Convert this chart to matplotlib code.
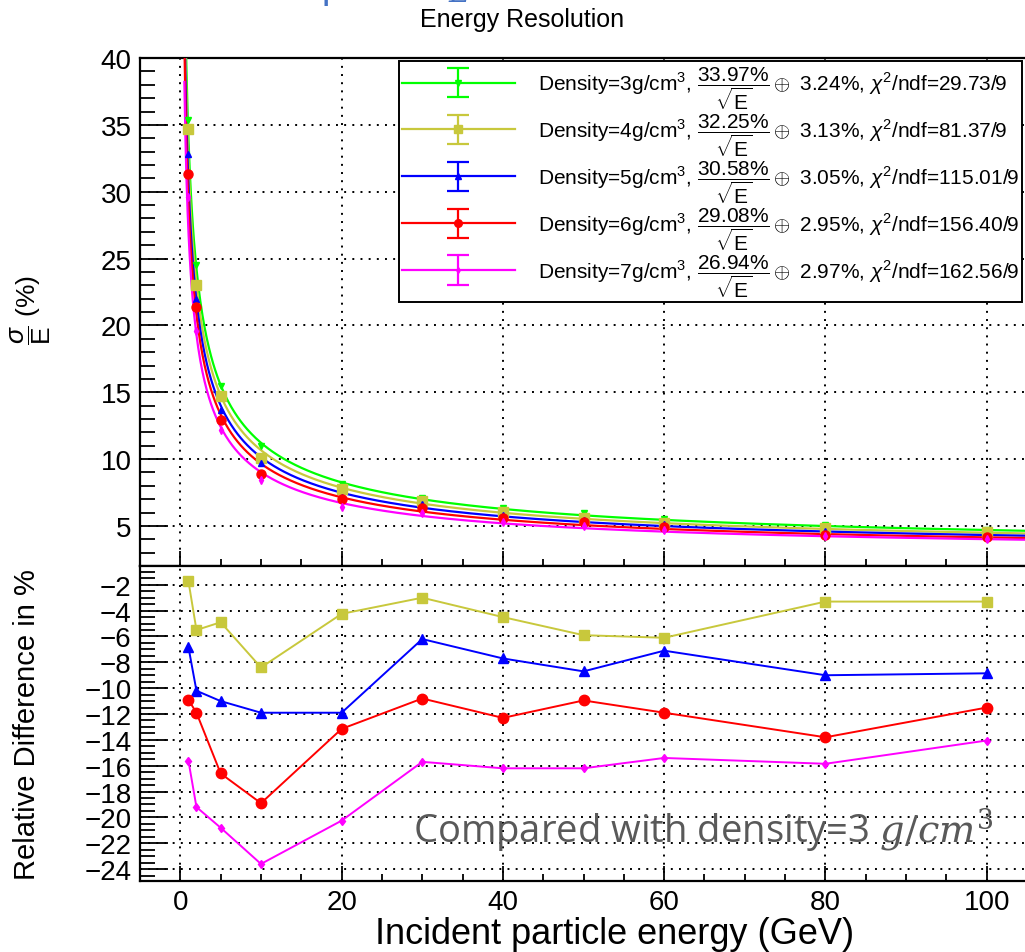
#!/usr/bin/env python3
# -*- coding: utf-8 -*-
import numpy as np
import matplotlib
matplotlib.use('Agg')
import matplotlib.pyplot as plt
from matplotlib.ticker import MultipleLocator
from matplotlib.legend_handler import HandlerErrorbar

plt.rcParams['font.family'] = ['Liberation Sans', 'DejaVu Sans']
plt.rcParams['mathtext.fontset'] = 'custom'
plt.rcParams['mathtext.rm'] = 'Liberation Sans'
plt.rcParams['mathtext.it'] = 'Liberation Sans:italic'
plt.rcParams['mathtext.bf'] = 'Liberation Sans:bold'

# incident energies (GeV)
energy = [1, 2, 5, 10, 20, 30, 40, 50, 60, 80, 100]

# sigma/E (%) per density
res_d3 = [35.4, 24.5, 15.5, 11.0, 8.1, 7.1, 6.35, 5.97, 5.55, 5.05, 4.7]
res_d4 = [34.7, 23.0, 14.7, 10.1, 7.75, 6.9, 6.05, 5.62, 5.2, 4.88, 4.55]
res_d5 = [32.8, 22.0, 13.7, 9.7, 7.15, 6.65, 5.85, 5.45, 5.15, 4.6, 4.28]
res_d6 = [31.3, 21.4, 12.9, 8.9, 7.0, 6.33, 5.57, 5.32, 4.89, 4.35, 4.16]
res_d7 = [29.6, 19.6, 12.2, 8.4, 6.45, 5.98, 5.32, 5.0, 4.7, 4.25, 4.04]

# relative difference to density 3 (%)
rel_d4 = [-1.7, -5.5, -4.9, -8.4, -4.25, -3.0, -4.5, -5.9, -6.1, -3.3, -3.3]
rel_d5 = [-6.8, -10.2, -11.0, -11.9, -11.9, -6.2, -7.7, -8.7, -7.1, -9.0, -8.85]
rel_d6 = [-10.9, -11.9, -16.6, -18.9, -13.15, -10.8, -12.3, -10.95, -11.9, -13.8, -11.5]
rel_d7 = [-15.6, -19.2, -20.8, -23.6, -20.25, -15.7, -16.2, -16.2, -15.4, -15.85, -14.05]

# fit results
densities = [3, 4, 5, 6, 7]
stoch = [33.97, 32.25, 30.58, 29.08, 26.94]
const = [3.24, 3.13, 3.05, 2.95, 2.97]
chi2 = ['29.73', '81.37', '115.01', '156.40', '162.56']

colors = ['#00ff00', '#c8c83c', '#0000ff', '#ff0000', '#ff00ff']
markers = ['v', 's', '^', 'o', 'd']
msizes = [5, 6.5, 5, 6.5, 4]

fig = plt.figure(figsize=(10.25, 9.53), dpi=100)
ax1 = fig.add_axes([0.1366, 0.405, 0.8654, 0.533])
ax2 = fig.add_axes([0.1366, 0.0745, 0.8654, 0.3305])

grid_kw = dict(color='black', linestyle=(0, (1, 3.2)), linewidth=1.4)

# --- upper panel
res_all = [res_d3, res_d4, res_d5, res_d6, res_d7]
ee = np.linspace(0.5, 106, 800)
handles, labels = [], []
for i in range(5):
    c = colors[i]
    fit = np.sqrt((stoch[i] / np.sqrt(ee))**2 + const[i]**2)
    ax1.plot(ee, fit, color=c, lw=1.6, zorder=3)
    ax1.errorbar(energy, res_all[i], yerr=0.12, fmt=markers[i], color=c,
                 ms=msizes[i], capsize=0, lw=1.2, zorder=4)
    h = ax1.errorbar([np.nan], [np.nan], yerr=[1.0], color=c, marker=markers[i],
                     ms=msizes[i] - 1, ls='-', lw=1.6, capsize=8, capthick=1.6)
    handles.append(h)
    labels.append(r'Density=%dg/cm$^{3}$, $\dfrac{%.2f\%%}{\sqrt{\mathrm{E}}}\oplus$ %.2f%%, $\chi^{2}$/ndf=%s/9'
                  % (densities[i], stoch[i], const[i], chi2[i]))

ax1.set_xlim(-5, 105)
ax1.set_ylim(2, 40)
ax1.set_yticks([5, 10, 15, 20, 25, 30, 35, 40])
ax1.yaxis.set_minor_locator(MultipleLocator(1))
ax1.set_xticks([0, 20, 40, 60, 80, 100])
ax1.xaxis.set_minor_locator(MultipleLocator(5))
ax1.tick_params(labelbottom=False)
ax1.grid(True, which='major', **grid_kw)

leg = ax1.legend(handles, labels, loc='upper right', bbox_to_anchor=(0.994, 0.994),
                 fontsize=15, handlelength=5.4, handletextpad=1.1, labelspacing=0.0,
                 borderpad=0.15, borderaxespad=0, fancybox=False, framealpha=1,
                 edgecolor='black', handler_map={type(handles[0]): HandlerErrorbar(yerr_size=0.7)})
leg.get_frame().set_linewidth(1.4)

# --- lower panel
rel_all = [rel_d4, rel_d5, rel_d6, rel_d7]
lower_ms = [7.5, 6.5, 7.5, 4.5]
for i, r in enumerate(rel_all):
    ax2.plot(energy, r, color=colors[i + 1], marker=markers[i + 1],
             ms=lower_ms[i], lw=1.4)

ax2.set_xlim(-5, 105)
ax2.set_ylim(-24.92, -0.55)
ax2.set_yticks(np.arange(-24, -1, 2))
ax2.yaxis.set_minor_locator(MultipleLocator(0.5))
ax2.set_xticks([0, 20, 40, 60, 80, 100])
ax2.xaxis.set_minor_locator(MultipleLocator(5))
ax2.grid(True, which='major', **grid_kw)

ax2.text(0.962, 0.124, r'Compared with density=3 $g/cm^3$', transform=ax2.transAxes,
         ha='right', va='baseline', fontsize=27.5, color='#595959',
         family=['Open Sans', 'DejaVu Sans'], math_fontfamily='dejavuserif')

for ax in (ax1, ax2):
    for s in ax.spines.values():
        s.set_linewidth(1.6)
    ax.spines['right'].set_visible(False)
    ax.tick_params(axis='both', which='both', direction='in', labelsize=20,
                   top=False, right=False, width=1.3)
    ax.tick_params(axis='y', which='major', length=20, pad=6)
    ax.tick_params(axis='y', which='minor', length=11)
    ax.tick_params(axis='x', which='major', length=11, pad=6)
    ax.tick_params(axis='x', which='minor', length=5)

# texts
fig.text(0.509, 0.979, 'Energy Resolution', ha='center', va='center', fontsize=18)
fig.text(0.6, 0.0195, 'Incident particle energy (GeV)', ha='center', va='center', fontsize=26)
fig.text(0.026, 0.24, 'Relative Difference in %', rotation=90, ha='center', va='center', fontsize=21)
fig.text(0.03, 0.675, r'$\dfrac{\sigma}{\mathrm{E}}$ (%)', rotation=90, ha='center', va='center', fontsize=19)
fig.text(0.02, 1.004, r'Resolution compare $\sigma_E$', ha='left', va='baseline',
         fontsize=30, color='#4472C4', family=['Open Sans', 'DejaVu Sans'],
         math_fontfamily='dejavuserif')

fig.savefig('out.png', dpi=100)
